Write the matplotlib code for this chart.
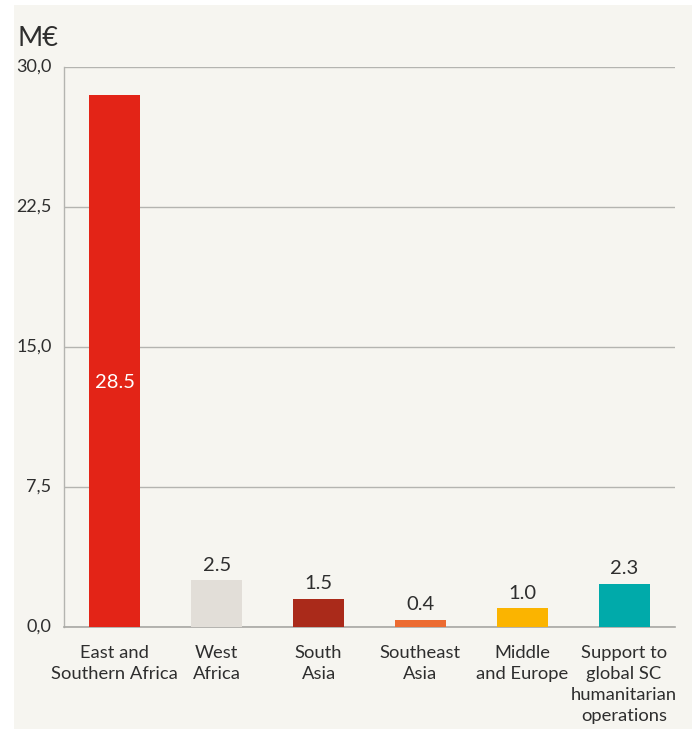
import matplotlib
matplotlib.use("Agg")
import matplotlib.pyplot as plt
from matplotlib.patches import Rectangle

plt.rcParams['font.family'] = ['Lato', 'DejaVu Sans']

categories = ["East and\nSouthern Africa", "West\nAfrica", "South\nAsia",
              "Southeast\nAsia", "Middle\nand Europe",
              "Support to\nglobal SC\nhumanitarian\noperations"]
values = [28.5, 2.5, 1.5, 0.4, 1.0, 2.3]
colors = ["#E32417", "#E2DED8", "#AA2A1A", "#EC6B31", "#FBB400", "#00AAAA"]
yticks = [0, 7.5, 15, 22.5, 30]
ytick_labels = ["0,0", "7,5", "15,0", "22,5", "30,0"]

W, H = 699, 730
fig = plt.figure(figsize=(W / 100, H / 100), dpi=100, facecolor="white")
bg = "#F6F5F0"
fig.patches.append(Rectangle((14 / W, 1 / H), (692 - 14) / W, (725 - 1) / H,
                             transform=fig.transFigure, facecolor=bg,
                             edgecolor="none", zorder=-10))

ax = fig.add_axes([64 / W, (H - 627) / H, (675 - 64) / W, (627 - 67) / H])
ax.set_zorder(1)
ax.patch.set_visible(False)

x = list(range(len(values)))
ax.bar(x, values, width=0.5, color=colors, zorder=3)

text_color = "#2E2E2E"
for xi, v in zip(x, values):
    if v > 20:
        ax.text(xi, v * 0.46, f"{v:.1f}", ha="center", va="center",
                color="white", fontsize=14.5, zorder=4)
    else:
        ax.annotate(f"{v:.1f}", (xi, v), xytext=(0, 11),
                    textcoords="offset points", ha="center", va="center",
                    color=text_color, fontsize=14.5, zorder=4)

ax.set_xlim(-0.5, 5.5)
ax.set_ylim(0, 30)
ax.set_yticks(yticks)
ax.set_yticklabels(ytick_labels)
ax.set_xticks(x)
ax.set_xticklabels(categories, linespacing=1.38)
ax.tick_params(axis="both", length=0, colors=text_color)
ax.tick_params(axis="y", pad=9, labelsize=13)
ax.tick_params(axis="x", pad=13, labelsize=13.2)
for lbl in ax.get_yticklabels():
    lbl.set_verticalalignment("center")

ax.yaxis.grid(True, color="#B4B4B0", linewidth=1.0, zorder=1)
ax.set_axisbelow(True)
for s in ["top", "right"]:
    ax.spines[s].set_visible(False)
ax.spines["left"].set_color("#B4B4B0")
ax.spines["bottom"].set_color("#A8A8A4")
ax.spines["left"].set_linewidth(1.0)
ax.spines["bottom"].set_linewidth(1.2)

fig.text(17 / W, (H - 38) / H, "M€", ha="left", va="center",
         fontsize=19.5, color=text_color, zorder=5)

fig.savefig("out.png", dpi=100, facecolor="white")
